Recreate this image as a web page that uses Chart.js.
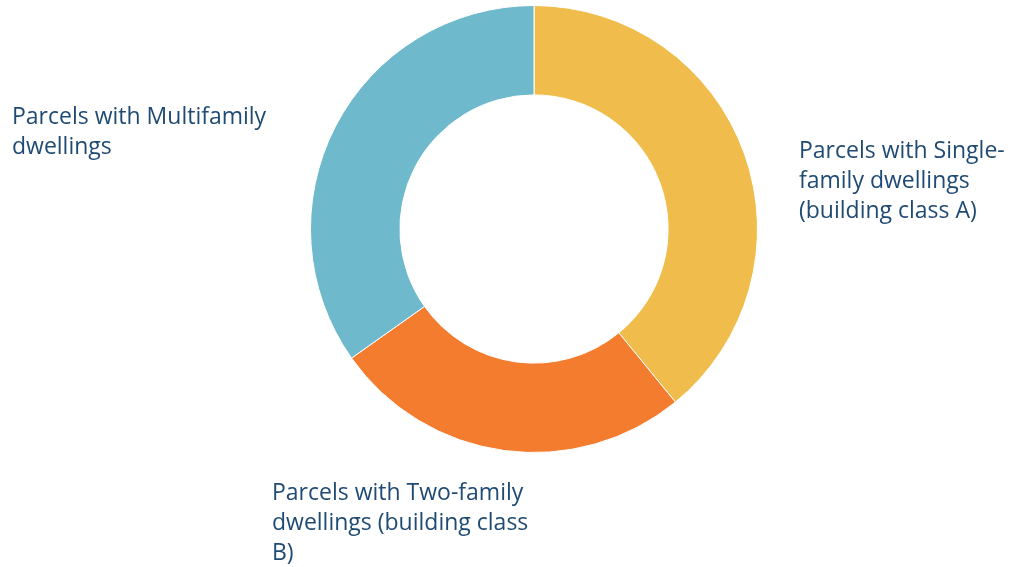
<!DOCTYPE html>
<html>
<head>
<meta charset="utf-8">
<script src="https://cdn.jsdelivr.net/npm/chart.js@4/dist/chart.umd.min.js"></script>
<style>
  html, body { margin: 0; padding: 0; background: #fff; }
  #wrap { width: 1020px; height: 567px; position: relative; }
</style>
</head>
<body>
<div id="wrap"><canvas id="chart"></canvas></div>
<script>
// parcel shares (%), clockwise from 12 o'clock
const categories = [
  ['Parcels with Single-', 'family dwellings', '(building class A)'],
  ['Parcels with Two-family', 'dwellings (building class', 'B)'],
  ['Parcels with Multifamily', 'dwellings'],
];
const shares = [39.1, 26.1, 34.8];
const sliceColors = ['#F0BD4C', '#F47C2E', '#6FB9CC'];

// where each label block sits, relative to the doughnut centre
const labelOffsets = [
  { dx: 265, dy: -78 },
  { dx: -262, dy: 264 },
  { dx: -522, dy: -112 },
];

const outsideLabels = {
  id: 'outsideLabels',
  afterDraw(chart) {
    const meta = chart.getDatasetMeta(0);
    const arc = meta.data[0];
    if (!arc) return;
    const ctx = chart.ctx;
    ctx.save();
    ctx.fillStyle = '#1F4A73';
    ctx.font = '23px "Open Sans", sans-serif';
    ctx.textAlign = 'left';
    ctx.textBaseline = 'middle';
    categories.forEach((lines, i) => {
      const off = labelOffsets[i];
      lines.forEach((line, j) => {
        ctx.fillText(line, arc.x + off.dx, arc.y + off.dy + j * 30);
      });
    });
    ctx.restore();
  },
};

new Chart(document.getElementById('chart'), {
  type: 'doughnut',
  data: {
    labels: categories.map((l) => l.join(' ')),
    datasets: [{
      data: shares,
      backgroundColor: sliceColors,
      borderColor: '#ffffff',
      borderWidth: 1,
      hoverOffset: 0,
    }],
  },
  options: {
    responsive: true,
    maintainAspectRatio: false,
    animation: false,
    cutout: '60%',
    layout: { padding: { left: 310, right: 262, top: 5, bottom: 114 } },
    plugins: {
      legend: { display: false },
      tooltip: { enabled: false },
    },
  },
  plugins: [outsideLabels],
});
</script>
</body>
</html>
